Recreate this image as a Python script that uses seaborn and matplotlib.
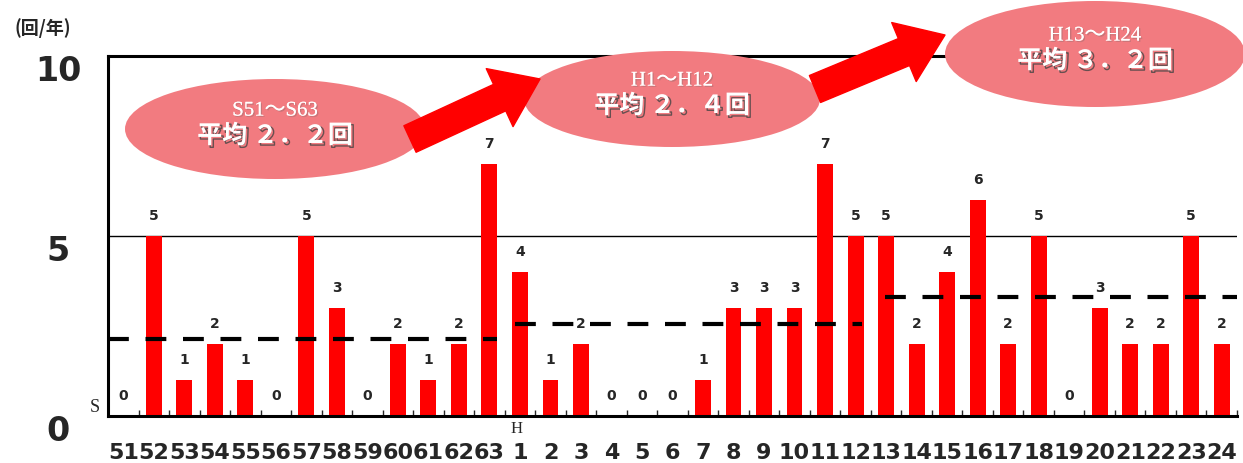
import numpy as np
import pandas as pd
import matplotlib
matplotlib.use("Agg")
import matplotlib.pyplot as plt
import matplotlib.patheffects as pe
from matplotlib.patches import Ellipse, FancyArrowPatch, ArrowStyle
from matplotlib.transforms import ScaledTranslation
import seaborn as sns

# 年 (S51-S63, H1-H24) と 発生回数
showa_years = [str(y) for y in range(51, 64)]
heisei_years = [str(y) for y in range(1, 25)]
showa_counts = [0, 5, 1, 2, 1, 0, 5, 3, 0, 2, 1, 2, 7]
heisei_counts = [4, 1, 2, 0, 0, 0, 1, 3, 3, 3, 7, 5,
                 5, 2, 4, 6, 2, 5, 0, 3, 2, 2, 5, 2]

# 期間ごとの平均線
period_names = ["S51～S63", "H1～H12", "H13～H24"]
period_avg_text = ["平均 ２．２回", "平均 ２．４回", "平均 ３．２回"]
period_line = [2.15, 2.55, 3.3]
period_span = [(-0.5, 12.25), (12.85, 24.2), (24.95, 36.5)]

labels = showa_years + heisei_years
counts = showa_counts + heisei_counts
df = pd.DataFrame({"year": labels, "count": counts})

sns.set_style("white")
plt.rcParams["font.family"] = ["DejaVu Sans", "Noto Sans CJK JP"]

W, H = 1243, 464
fig = plt.figure(figsize=(W / 100, H / 100), dpi=100)
ax = fig.add_axes([108 / W, 1 - 417 / H, (1237 - 108) / W, (417 - 57) / H])

sns.barplot(data=df, x="year", y="count", order=labels, color="#ff0000",
            saturation=1, width=0.52, linewidth=0, ax=ax)

ax.set_xlim(-0.5, len(labels) - 0.5)
ax.set_ylim(0, 10)
ax.axhline(5, color="black", lw=1, zorder=0)

for i, c in enumerate(counts):
    ax.annotate(str(c), (i, c), xytext=(0, 14), textcoords="offset pixels",
                ha="center", va="bottom", fontsize=10, fontweight="bold")

for y, (x0, x1) in zip(period_line, period_span):
    ax.hlines(y, x0, x1, colors="black", lw=3, linestyles=(0, (5, 4)),
              zorder=5, clip_on=False)

# spines
for s in ["left", "bottom", "top"]:
    ax.spines[s].set_color("black")
    ax.spines[s].set_linewidth(2.2)
ax.spines["right"].set_visible(False)

ax.set_xlabel("")
ax.set_ylabel("")
ax.set_yticks([0, 5, 10])
ax.set_yticklabels(["0", "5", "10"], fontsize=24, fontweight="bold")
ax.tick_params(axis="y", length=0, pad=36)
for lab in ax.get_yticklabels():
    lab.set_transform(lab.get_transform() + ScaledTranslation(0, -8 / 72, fig.dpi_scale_trans))
    lab.set_horizontalalignment("center")

ax.set_xticks(np.arange(len(labels) + 1) - 0.5, minor=True)
ax.tick_params(axis="x", which="minor", direction="in", length=4, width=1, bottom=True)
ax.tick_params(axis="x", which="major", length=0, pad=19)
ax.set_xticklabels(labels, fontsize=16, fontweight="semibold")

fig.text(95 / W, 1 - 408 / H, "S", family="Liberation Serif", fontsize=13,
         ha="center", va="center")
fig.text(517 / W, 1 - 429 / H, "H", family="Liberation Serif", fontsize=12,
         ha="center", va="center")
fig.text(43 / W, 1 - 28 / H, "(回/年)", family=["Noto Sans CJK JP", "DejaVu Sans"],
         fontsize=13, fontweight="bold", ha="center", va="center")

# ellipses with averages
ellipses = [(275, 130, 300, 100), (672, 100, 296, 96), (1095, 55, 300, 106)]
for (cx, cy, w, h), name, avg in zip(ellipses, period_names, period_avg_text):
    e = Ellipse((cx / W, 1 - cy / H), w / W, h / H, transform=fig.transFigure,
                facecolor="#f27b80", edgecolor="none", zorder=7)
    fig.add_artist(e)
    t1 = fig.text(cx / W, 1 - (cy - 18) / H, name,
                  family=["Liberation Serif", "Noto Sans CJK JP"], fontsize=15,
                  color="white", ha="center", va="center", zorder=8)
    t1.set_path_effects([pe.withSimplePatchShadow(offset=(1, -1), shadow_rgbFace="#666666"),
                         pe.Normal()])
    t2 = fig.text(cx / W, 1 - (cy + 7) / H, avg,
                  family=["Noto Sans CJK JP", "DejaVu Sans"], fontsize=18,
                  fontweight="bold", color="white", ha="center", va="center", zorder=8)
    t2.set_path_effects([pe.SimpleLineShadow(offset=(1.5, -1.5), shadow_color="#444444",
                                              alpha=0.8, linewidth=1), pe.Normal()])

# arrows
style = ArrowStyle("simple", head_length=32, head_width=46, tail_width=21)
for (x0, y0, x1, y1) in [(410, 140, 540, 80), (815, 90, 945, 36)]:
    arr = FancyArrowPatch((x0 / W, 1 - y0 / H), (x1 / W, 1 - y1 / H),
                          arrowstyle=style, mutation_scale=1, shrinkA=0, shrinkB=0,
                          color="#ff0000", transform=fig.transFigure, zorder=9)
    fig.add_artist(arr)

fig.savefig("out.png", dpi=100)
